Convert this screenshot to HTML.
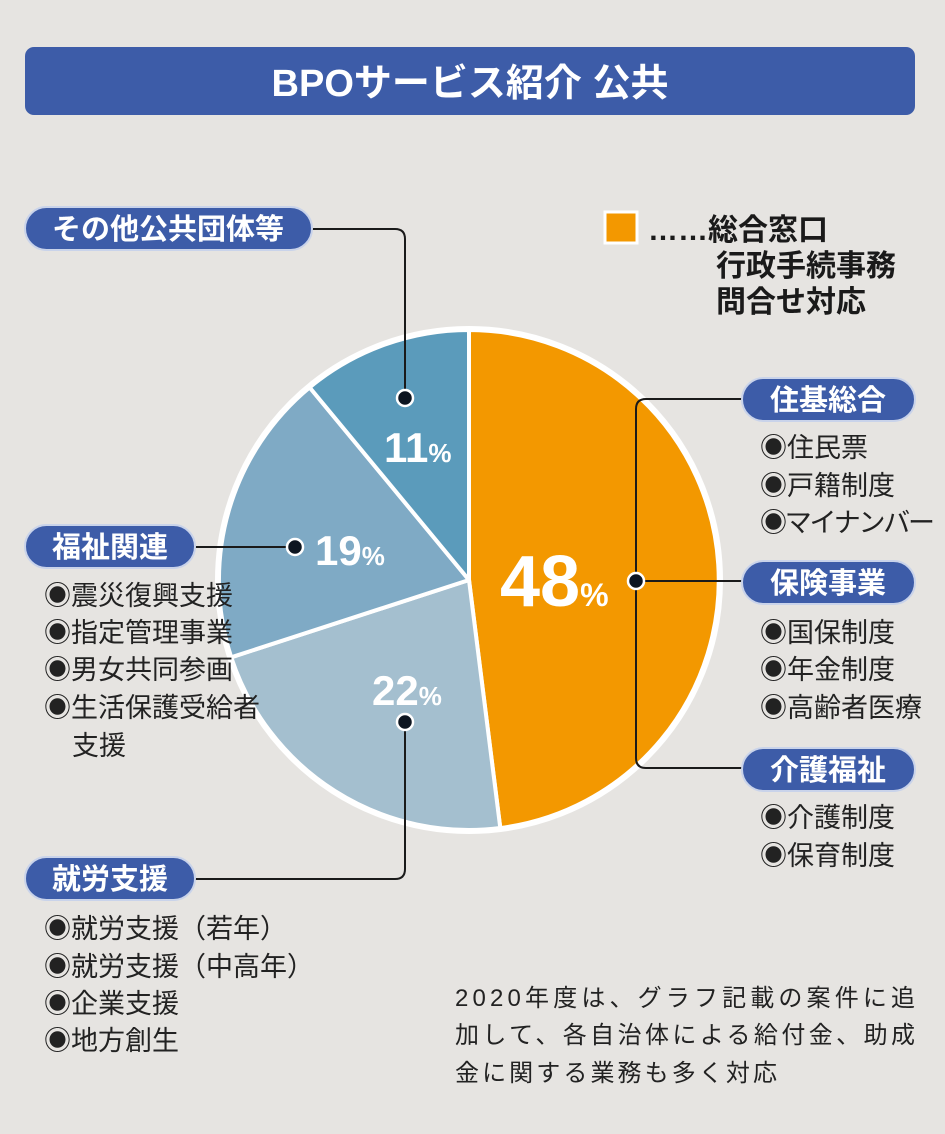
<!DOCTYPE html>
<html><head><meta charset="utf-8"><style>
html,body{margin:0;padding:0;background:#e6e4e1;}
svg{display:block;}
text{font-family:"Liberation Sans","Noto Sans CJK JP",sans-serif;}
.b{font-weight:bold;}
</style></head><body>
<svg width="945" height="1134" viewBox="0 0 945 1134" xmlns="http://www.w3.org/2000/svg">
<rect width="945" height="1134" fill="#e6e4e1"/>
<rect x="25" y="47" width="890" height="68" rx="9" fill="#3d5ca8"/>
<text x="470" y="96" text-anchor="middle" font-size="38" fill="#fff" class="b">BPOサービス紹介 公共</text>

<!-- pie -->
<g stroke="#fff" stroke-width="4" stroke-linejoin="round">
<path d="M469,580 L469,330 A250,250 0 0 1 500.3,828 Z" fill="#f39800"/>
<path d="M469,580 L500.3,828 A250,250 0 0 1 231.2,657.3 Z" fill="#a4bfcf"/>
<path d="M469,580 L231.2,657.3 A250,250 0 0 1 309.6,387.4 Z" fill="#7faac5"/>
<path d="M469,580 L309.6,387.4 A250,250 0 0 1 469,330 Z" fill="#5b9bbb"/>
</g>
<circle cx="469" cy="580" r="252" fill="none" stroke="#fff" stroke-width="4"/>

<!-- lines -->
<g fill="none" stroke="#1a1a1a" stroke-width="2">
<path d="M312,229 H395 Q405,229 405,239 V398"/>
<path d="M195,547 H295"/>
<path d="M195,879 H395 Q405,879 405,869 V722"/>
<path d="M742,399 H646 Q636,399 636,409 V758 Q636,768 646,768 H742"/>
<path d="M636,581 H742"/>
</g>
<g fill="#0d1520" stroke="#fff" stroke-width="2.5">
<circle cx="405" cy="398" r="8"/>
<circle cx="295" cy="547" r="8"/>
<circle cx="405" cy="722" r="8"/>
<circle cx="636" cy="581" r="8"/>
</g>

<!-- percents -->
<g fill="#fff" class="b">
<text x="384" y="462" font-size="42" class="b">11<tspan font-size="26">%</tspan></text>
<text x="315" y="565" font-size="42" class="b">19<tspan font-size="26">%</tspan></text>
<text x="372" y="705" font-size="42" class="b">22<tspan font-size="26">%</tspan></text>
<text x="500" y="606" font-size="72" class="b">48<tspan font-size="32">%</tspan></text>
</g>

<!-- pills -->
<g fill="#3d5ca8" stroke="#c9d3ea" stroke-width="2">
<rect x="25" y="207" width="287" height="43" rx="21.5"/>
<rect x="742" y="378" width="173" height="43" rx="21.5"/>
<rect x="742" y="561" width="173" height="43" rx="21.5"/>
<rect x="742" y="748" width="173" height="43" rx="21.5"/>
<rect x="25" y="525" width="170" height="43" rx="21.5"/>
<rect x="25" y="857" width="170" height="43" rx="21.5"/>
</g>
<g fill="#fff" font-size="29" text-anchor="middle" class="b">
<text x="168" y="239" class="b">その他公共団体等</text>
<text x="828" y="410" class="b">住基総合</text>
<text x="828" y="593" class="b">保険事業</text>
<text x="828" y="780" class="b">介護福祉</text>
<text x="110" y="557" class="b">福祉関連</text>
<text x="110" y="889" class="b">就労支援</text>
</g>

<!-- legend -->
<rect x="605" y="212" width="32" height="31" fill="#f39800" stroke="#fff" stroke-width="3"/>
<g font-size="30" fill="#1a1a1a" class="b">
<text x="648" y="240" class="b">……総合窓口</text>
<text x="716" y="276" class="b">行政手続事務</text>
<text x="716" y="312" class="b">問合せ対応</text>
</g>

<!-- lists -->
<g font-size="27" fill="#222">
<text x="760" y="457">◉住民票</text>
<text x="760" y="495">◉戸籍制度</text>
<text x="760" y="532" textLength="175">◉マイナンバー</text>
<text x="760" y="642">◉国保制度</text>
<text x="760" y="679">◉年金制度</text>
<text x="760" y="717">◉高齢者医療</text>
<text x="760" y="827">◉介護制度</text>
<text x="760" y="865">◉保育制度</text>
<text x="44" y="605">◉震災復興支援</text>
<text x="44" y="642">◉指定管理事業</text>
<text x="44" y="679">◉男女共同参画</text>
<text x="44" y="717">◉生活保護受給者</text>
<text x="72" y="755">支援</text>
<text x="44" y="938">◉就労支援（若年）</text>
<text x="44" y="976">◉就労支援（中高年）</text>
<text x="44" y="1013">◉企業支援</text>
<text x="44" y="1050">◉地方創生</text>
</g>
<g font-size="24" fill="#222">
<text x="455" y="1006" textLength="460">2020年度は、グラフ記載の案件に追</text>
<text x="455" y="1043" textLength="460">加して、各自治体による給付金、助成</text>
<text x="455" y="1081" textLength="322">金に関する業務も多く対応</text>
</g>
</svg>
</body></html>
